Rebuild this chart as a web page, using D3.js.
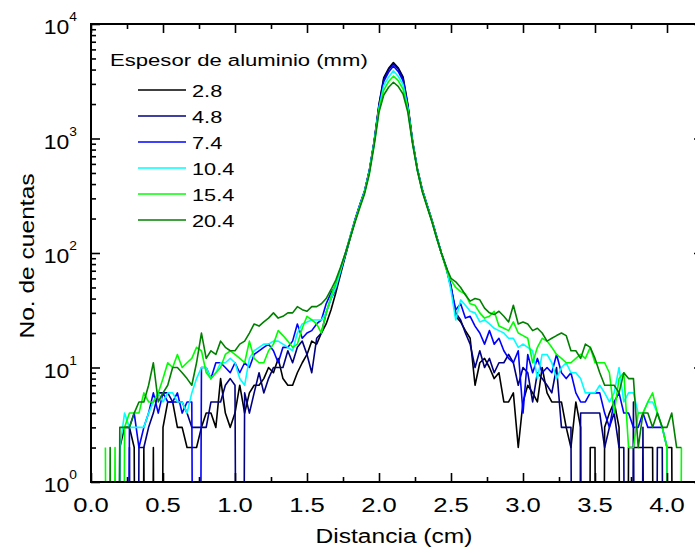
<!DOCTYPE html>
<html><head><meta charset="utf-8">
<script src="https://cdn.jsdelivr.net/npm/d3@7"></script>
<style>
body{margin:0;background:#fff}
text{font-family:"Liberation Sans",Arial,Helvetica,sans-serif;fill:#000}
</style>
</head><body><svg id="c" width="695" height="553"></svg>
<script>
// Bin centres (cm)
const distancia = [
0.100,0.133,0.167,0.200,0.233,0.267,0.300,0.333,0.367,0.400,
0.433,0.467,0.500,0.533,0.567,0.600,0.633,0.667,0.700,0.733,
0.767,0.800,0.833,0.867,0.900,0.933,0.967,1.000,1.033,1.067,
1.100,1.133,1.167,1.200,1.233,1.267,1.300,1.333,1.367,1.400,
1.433,1.467,1.500,1.533,1.567,1.600,1.633,1.667,1.700,1.733,
1.767,1.800,1.833,1.867,1.900,1.933,1.967,2.000,2.033,2.067,
2.100,2.133,2.167,2.200,2.233,2.267,2.300,2.333,2.367,2.400,
2.433,2.467,2.500,2.533,2.567,2.600,2.633,2.667,2.700,2.733,
2.767,2.800,2.833,2.867,2.900,2.933,2.967,3.000,3.033,3.067,
3.100,3.133,3.167,3.200,3.233,3.267,3.300,3.333,3.367,3.400,
3.433,3.467,3.500,3.533,3.567,3.600,3.633,3.667,3.700,3.733,
3.767,3.800,3.833,3.867,3.900,3.933,3.967,4.000,4.033,4.067,
4.100];

const cuentas_2_8 = [
0,0,0,2,3,3,2,0,2,0,
2,0,3,5,5,3,3,2,2,2,
3,4,4,3,8,4,3,4,7,4,
6,7,7,8,10,9,12,8,7,7,
9,11,13,17,16,20,24,32,
45,65,95,135,190,260,345,525,960,2000,3400,4100,
4600,4150,3450,2000,950,540,360,265,195,140,100,75,52,
28,25,21,18,7,11,12,10,8,9,
5,5,6,2,5,7,6,5,10,6,
5,5,5,3,2,5,3,0,2,2,
0,3,4,5,3,0,2,2,2,2,
2,2,0,0,2,2,0,0];

const cuentas_4_8 = [
0,0,0,0,0,2,0,2,2,3,
4,6,6,6,5,5,5,4,3,3,
3,3,5,5,5,7,8,7,0,6,
4,6,9,6,8,10,10,10,14,11,
15,17,13,9,18,20,30,40,
48,68,97,137,192,262,345,520,950,1950,3300,4000,
4500,4050,3350,1950,940,535,355,262,192,138,100,74,50,
30,26,20,16,10,14,10,12,9,11,
11,13,11,7,10,9,5,9,8,7,
6,10,3,3,3,0,4,4,4,4,
4,2,3,4,2,2,0,5,0,3,
0,0,2,2,0,0,0,0];

const cuentas_7_4 = [
0,0,0,0,0,3,4,2,3,4,
6,4,6,5,5,6,4,5,5,0,
10,10,8,11,11,10,9,11,9,11,
10,13,14,15,16,14,11,15,15,17,
24,18,20,21,24,26,36,45,
52,72,100,140,195,265,350,525,940,1900,3150,3800,
4300,3850,3200,1900,940,535,355,262,192,138,100,75,50,
32,36,27,28,23,20,16,21,16,18,
14,12,11,14,4,13,9,12,9,10,
9,13,9,8,9,6,5,5,6,6,
6,4,3,5,6,4,4,3,3,4,
3,3,3,3,2,0,0,0];

const cuentas_10_4 = [
0,0,0,2,4,3,3,3,3,4,
5,6,5,6,6,5,5,4,6,8,
10,10,8,9,11,11,12,11,8,7,
12,14,15,16,16,17,17,16,15,14,
20,24,25,26,26,26,30,40,
50,70,98,138,190,260,345,515,930,1850,2900,3450,
3900,3500,2950,1850,930,530,355,262,192,138,100,75,47,
26,39,35,31,30,25,26,24,22,21,
20,18,18,15,16,15,14,8,13,13,
11,8,10,11,9,9,8,6,6,6,
7,6,5,6,10,5,6,6,4,4,
5,5,4,3,2,0,0,0];

const cuentas_15_4 = [
2,0,2,0,3,4,4,4,6,5,
5,6,8,11,10,13,10,11,12,15,
14,9,8,9,10,13,14,13,12,11,
17,12,11,11,14,16,21,19,17,15,
16,22,28,26,24,20,30,42,
55,74,100,138,190,255,340,505,910,1800,2650,3150,
3500,3200,2700,1800,920,525,350,258,190,135,100,72,58,
50,46,44,36,35,30,27,28,31,23,
22,21,25,20,19,18,11,15,18,17,
15,13,12,11,11,12,13,12,15,11,
11,11,9,4,8,9,2,2,4,4,
5,6,4,3,2,0,0,2];

const cuentas_20_4 = [
0,2,0,3,3,3,4,5,5,7,
11,5,6,7,10,10,9,8,7,11,
20,12,14,13,17,15,14,14,16,17,
20,24,23,25,27,30,27,28,30,30,
34,32,31,34,34,36,40,48,
58,75,100,135,185,250,330,490,880,1700,2400,2800,
3100,2850,2450,1700,900,520,345,255,188,135,100,75,60,
56,50,43,38,40,39,33,30,29,31,
28,25,35,24,25,24,21,22,20,17,
18,19,20,19,14,14,12,16,15,12,
9,7,7,7,6,9,8,8,2,4,
4,3,4,3,3,4,2,2];

const espesores = ["2.8","4.8","7.4","10.4","15.4","20.4"];
const colores = ["#000000","#000080","#0000ff","#00ffff","#00ff00","#008000"];
const series = [cuentas_2_8,cuentas_4_8,cuentas_7_4,cuentas_10_4,cuentas_15_4,cuentas_20_4];

const xTickValues = [0,0.5,1.0,1.5,2.0,2.5,3.0,3.5,4.0];
const xTickLabels = ["0.0","0.5","1.0","1.5","2.0","2.5","3.0","3.5","4.0"];
const xMinorValues = [0.25,0.75,1.25,1.75,2.25,2.75,3.25,3.75,4.25];
const yTickValues = [1,10,100,1000,10000];
const yTickExp = ["0","1","2","3","4"];

const xTitle = "Distancia (cm)";
const yTitle = "No. de cuentas";
const legendTitle = "Espesor de aluminio (mm)";

const L = 91, T = 24, R = 703, B = 482;
const svg = d3.select("#c");
const x = d3.scaleLinear().domain([0, 4.25]).range([L, R]);
const y = d3.scaleLog().domain([1, 1e4]).range([B, T]);

const yMinor = [];
for (let d = 1; d < 1e4; d *= 10) for (let m = 2; m <= 9; m++) yMinor.push(d * m);

svg.append("defs").append("clipPath").attr("id","clip")
  .append("rect").attr("x", L).attr("y", T).attr("width", R - L).attr("height", B - T);

// data lines
const line = d3.line()
  .x((d, i) => x(distancia[i]))
  .y(d => y(d > 0 ? d : 1e-9));
const gLines = svg.append("g").attr("clip-path", "url(#clip)");
series.forEach((s, i) => {
  gLines.append("path").datum(s).attr("d", line)
    .attr("fill", "none").attr("stroke", colores[i]).attr("stroke-width", 1.6)
    .attr("stroke-linejoin", "round");
});

// axes (ticks inward)
function ax(gen, tr) {
  const g = svg.append("g").attr("transform", tr).call(gen);
  g.select(".domain").remove();
  g.selectAll("line").attr("stroke", "#000").attr("stroke-width", 1.6);
  g.selectAll("text").remove();
  return g;
}
ax(d3.axisBottom(x).tickValues(xTickValues).tickSize(-9), `translate(0,${B})`);
ax(d3.axisBottom(x).tickValues(xMinorValues).tickSize(-5), `translate(0,${B})`);
ax(d3.axisTop(x).tickValues(xTickValues).tickSize(-9), `translate(0,${T})`);
ax(d3.axisTop(x).tickValues(xMinorValues).tickSize(-5), `translate(0,${T})`);
ax(d3.axisLeft(y).tickValues(yTickValues).tickSize(-9), `translate(${L},0)`);
ax(d3.axisLeft(y).tickValues(yMinor).tickSize(-5), `translate(${L},0)`);
ax(d3.axisRight(y).tickValues(yTickValues).tickSize(-9), `translate(${R},0)`);
ax(d3.axisRight(y).tickValues(yMinor).tickSize(-5), `translate(${R},0)`);

svg.append("rect").attr("x", L).attr("y", T).attr("width", R - L).attr("height", B - T)
  .attr("fill", "none").attr("stroke", "#000").attr("stroke-width", 2);

// x tick labels
xTickValues.forEach((v, i) => {
  svg.append("g").attr("transform", `translate(${x(v)},512) scale(1.22,1)`)
    .append("text").attr("text-anchor", "middle").attr("font-size", 21).text(xTickLabels[i]);
});
// y tick labels
yTickValues.forEach((v, i) => {
  const t = svg.append("g").attr("transform", `translate(77,${y(v) + 10}) scale(1.15,1)`)
    .append("text").attr("text-anchor", "end").attr("font-size", 20);
  t.append("tspan").text("10");
  t.append("tspan").attr("font-size", 12).attr("dy", -13).text(yTickExp[i]);
});

// axis titles
svg.append("g").attr("transform", "translate(394,543) scale(1.17,1)")
  .append("text").attr("text-anchor", "middle").attr("font-size", 21).text(xTitle);
svg.append("g").attr("transform", "translate(34,256) rotate(-90) scale(1.17,1)")
  .append("text").attr("text-anchor", "middle").attr("font-size", 21).text(yTitle);

// legend
svg.append("g").attr("transform", "translate(110,66) scale(1.3,1)")
  .append("text").attr("font-size", 17).text(legendTitle);
espesores.forEach((e, i) => {
  const yy = 90 + i * 26;
  svg.append("line").attr("x1", 138).attr("x2", 186).attr("y1", yy).attr("y2", yy)
    .attr("stroke", colores[i]).attr("stroke-width", 1.6);
  svg.append("g").attr("transform", `translate(192,${yy + 7}) scale(1.28,1)`)
    .append("text").attr("font-size", 17).text(e);
});
</script>
</body></html>
